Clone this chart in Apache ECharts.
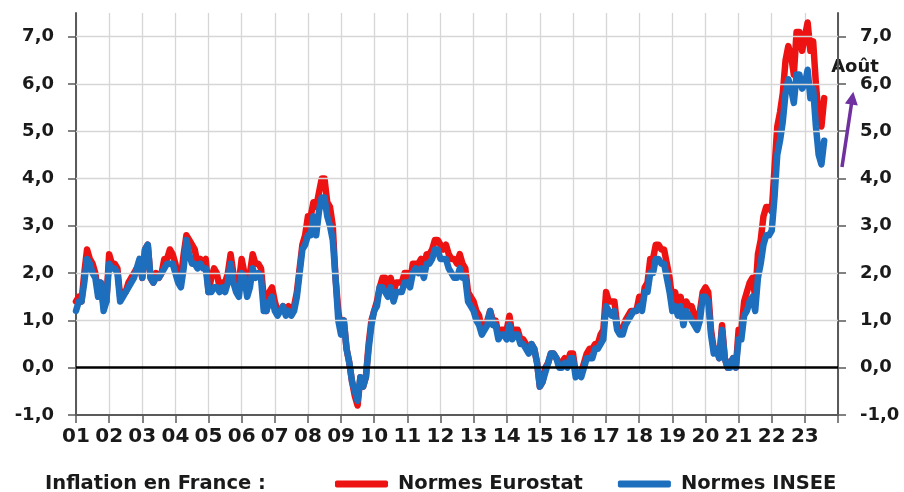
<!DOCTYPE html>
<html>
<head>
<meta charset="utf-8">
<script src="https://cdn.jsdelivr.net/npm/echarts@6/dist/echarts.min.js"></script>
<style>
html,body{margin:0;padding:0;background:#fff;}
#chart{width:904px;height:492px;}
</style>
</head>
<body>
<div id="chart"></div>
<script>
// Monthly year-on-year inflation, Jan 2001 .. Aug 2023
const yearLabels = ['01','02','03','04','05','06','07','08','09','10','11','12','13','14','15','16','17','18','19','20','21','22','23'];
const yTicks = [-1,0,1,2,3,4,5,6,7];
const gridValues = [1,2,3,4,5,6,7];
const seriesNames = ['Normes Eurostat','Normes INSEE'];

const eurostat = [
  1.4,1.5,1.4,2.0,2.5,2.3,2.2,2.0,1.6,1.8,1.3,1.4,
  2.4,2.2,2.2,2.1,1.5,1.6,1.6,1.8,1.9,2.0,2.1,2.2,
  1.9,2.5,2.6,1.9,1.8,2.0,1.9,2.0,2.3,2.3,2.5,2.4,
  2.2,1.9,1.9,2.4,2.8,2.7,2.6,2.5,2.2,2.3,2.2,2.3,
  1.6,1.9,2.1,2.0,1.7,1.8,1.8,2.0,2.4,2.0,1.8,1.8,
  2.3,2.0,1.7,2.0,2.4,2.2,2.2,2.1,1.5,1.2,1.6,1.7,
  1.4,1.2,1.2,1.3,1.2,1.3,1.2,1.3,1.6,2.1,2.6,2.8,
  3.2,3.2,3.5,3.4,3.7,4.0,4.0,3.5,3.4,3.0,1.9,1.2,
  0.8,1.0,0.4,0.1,-0.3,-0.6,-0.8,-0.2,-0.4,-0.2,0.5,1.0,
  1.2,1.4,1.7,1.9,1.9,1.7,1.9,1.6,1.8,1.8,1.8,2.0,
  2.0,1.8,2.2,2.2,2.2,2.3,2.1,2.4,2.4,2.5,2.7,2.7,
  2.6,2.5,2.6,2.4,2.3,2.3,2.2,2.4,2.2,2.1,1.6,1.5,
  1.4,1.2,1.1,0.8,0.9,1.0,1.2,1.0,1.0,0.7,0.8,0.8,
  0.8,1.1,0.7,0.8,0.8,0.6,0.6,0.5,0.4,0.5,0.4,0.1,
  -0.4,-0.3,0.0,0.1,0.3,0.3,0.2,0.1,0.1,0.2,0.1,0.3,
  0.3,-0.1,-0.1,-0.1,0.1,0.3,0.4,0.4,0.5,0.5,0.7,0.8,
  1.6,1.4,1.4,1.4,0.9,0.8,0.8,1.0,1.1,1.2,1.2,1.2,
  1.5,1.3,1.7,1.8,2.3,2.3,2.6,2.6,2.5,2.5,2.2,1.9,
  1.4,1.6,1.3,1.5,1.1,1.4,1.3,1.3,1.1,0.9,1.2,1.6,
  1.7,1.6,0.8,0.4,0.4,0.2,0.9,0.2,0.0,0.1,0.2,0.0,
  0.8,0.8,1.4,1.6,1.8,1.9,1.5,2.4,2.7,3.2,3.4,3.4,
  3.3,4.2,5.1,5.4,5.8,6.5,6.8,6.6,6.2,7.1,7.1,6.7,
  7.0,7.3,6.7,6.9,6.0,5.3,5.1,5.7
];

const insee = [
  1.2,1.4,1.4,1.8,2.3,2.2,2.0,1.9,1.5,1.8,1.2,1.4,
  2.2,2.1,2.1,2.0,1.4,1.5,1.6,1.7,1.8,1.9,2.1,2.3,
  1.9,2.5,2.6,1.9,1.8,1.9,1.9,2.0,2.1,2.2,2.2,2.2,
  2.0,1.8,1.7,2.1,2.7,2.4,2.2,2.2,2.1,2.2,2.1,2.1,
  1.6,1.6,1.7,1.7,1.6,1.7,1.6,1.8,2.2,1.8,1.6,1.5,
  2.0,1.9,1.5,1.7,2.1,1.9,2.0,1.9,1.2,1.2,1.4,1.5,
  1.2,1.1,1.2,1.3,1.1,1.2,1.1,1.2,1.5,2.0,2.5,2.6,
  2.8,2.8,3.2,2.8,3.3,3.6,3.6,3.2,3.0,2.7,1.9,1.0,
  0.7,1.0,0.4,0.1,-0.3,-0.5,-0.7,-0.2,-0.4,-0.2,0.4,0.9,
  1.2,1.3,1.7,1.7,1.6,1.5,1.7,1.4,1.6,1.6,1.6,1.8,
  1.8,1.7,2.0,2.1,2.0,2.1,1.9,2.2,2.2,2.3,2.5,2.5,
  2.3,2.3,2.3,2.1,2.0,1.9,1.9,2.1,1.9,1.9,1.4,1.3,
  1.2,1.0,0.9,0.7,0.8,0.9,1.2,0.9,0.9,0.6,0.7,0.7,
  0.6,0.9,0.6,0.7,0.7,0.5,0.5,0.4,0.3,0.5,0.4,0.1,
  -0.4,-0.3,-0.1,0.1,0.3,0.3,0.2,0.0,0.0,0.1,0.0,0.2,
  0.2,-0.2,-0.1,-0.2,0.0,0.2,0.2,0.2,0.4,0.4,0.5,0.6,
  1.3,1.2,1.1,1.2,0.8,0.7,0.7,0.9,1.0,1.1,1.2,1.2,
  1.3,1.2,1.6,1.6,2.0,2.0,2.3,2.3,2.2,2.2,1.9,1.6,
  1.2,1.3,1.1,1.3,0.9,1.2,1.1,1.0,0.9,0.8,1.0,1.5,
  1.5,1.4,0.7,0.3,0.4,0.2,0.8,0.2,0.0,0.0,0.2,0.0,
  0.6,0.6,1.1,1.2,1.4,1.5,1.2,1.9,2.2,2.6,2.8,2.8,
  2.9,3.6,4.5,4.8,5.2,5.8,6.1,5.9,5.6,6.2,6.2,5.9,
  6.0,6.3,5.7,5.9,5.1,4.5,4.3,4.8
];

const FONT = 'DejaVu Sans';
const TXT = '#1a1a1a';
const AXIS = '#5a5a5a';
const GRID = '#d6d6d6';

const toPairs = arr => arr.map((v, i) => [i, v]);
const fmtY = v => v.toFixed(1).replace('.', ',');

const yAxisBase = (pos) => ({
  type: 'value',
  position: pos,
  min: -1,
  max: 7.5,
  interval: 1,
  axisLine: { show: true, lineStyle: { color: AXIS, width: 2 } },
  axisTick: { show: true, length: 8, customValues: yTicks, lineStyle: { color: AXIS, width: 1.5 } },
  axisLabel: {
    customValues: yTicks,
    margin: 22,
    formatter: fmtY,
    color: TXT, fontFamily: FONT, fontWeight: 'bold', fontSize: 18
  },
  splitLine: { show: false }
});

const chart = echarts.init(document.getElementById('chart'));
chart.setOption({
  animation: false,
  backgroundColor: '#fff',
  grid: { left: 76, right: 66, top: 13, bottom: 77, containLabel: false },
  xAxis: {
    type: 'value',
    min: 0,
    max: yearLabels.length * 12,
    interval: 12,
    axisLine: { show: true, onZero: false, lineStyle: { color: AXIS, width: 2 } },
    axisTick: { show: true, length: 8, lineStyle: { color: AXIS, width: 1.5 } },
    axisLabel: {
      margin: 12,
      formatter: v => yearLabels[Math.round(v / 12)] || '',
      color: TXT, fontFamily: FONT, fontWeight: 'bold', fontSize: 20
    },
    splitLine: { show: true, lineStyle: { color: GRID, width: 1.3 } }
  },
  yAxis: [yAxisBase('left'), yAxisBase('right')],
  legend: {
    data: seriesNames,
    left: 330,
    top: 469,
    icon: 'roundRect',
    itemWidth: 53,
    itemHeight: 7,
    itemGap: 35,
    textStyle: { color: TXT, fontFamily: FONT, fontWeight: 'bold', fontSize: 19.5, padding: [0, 0, 0, 5] }
  },
  series: [
    {
      name: 'grid',
      type: 'line',
      data: [],
      silent: true,
      z: 1,
      markLine: {
        silent: true,
        symbol: 'none',
        label: { show: false },
        animation: false,
        data: gridValues.map(v => ({ yAxis: v, lineStyle: { color: GRID, width: 1.3, type: 'solid' } }))
          .concat([{ yAxis: 0, lineStyle: { color: '#000', width: 2.5, type: 'solid' } }])
      }
    },
    {
      name: seriesNames[0],
      type: 'line',
      data: toPairs(eurostat),
      showSymbol: false,
      z: 3,
      color: '#ee1313',
      lineStyle: { width: 6.5, color: '#ee1313', cap: 'round', join: 'round' }
    },
    {
      name: seriesNames[1],
      type: 'line',
      data: toPairs(insee),
      showSymbol: false,
      z: 4,
      color: '#1d6fbe',
      lineStyle: { width: 6.5, color: '#1d6fbe', cap: 'round', join: 'round' }
    }
  ]
});

// Annotations: caption, "Août" label and purple arrow
const tail = [842, 167], tip = [853.3, 91.7];
const dx = tip[0] - tail[0], dy = tip[1] - tail[1];
const len = Math.sqrt(dx * dx + dy * dy);
const ux = dx / len, uy = dy / len;
const headL = 13, headW = 6.5;
const bx = tip[0] - headL * ux, by = tip[1] - headL * uy;
const nx = -uy, ny = ux;

chart.setOption({
  graphic: [
    {
      type: 'text', x: 45, y: 484,
      style: { text: 'Inflation en France :', font: 'bold 19.5px "DejaVu Sans"', fill: TXT, verticalAlign: 'middle', align: 'left' }
    },
    {
      type: 'text', x: 855, y: 67,
      style: { text: 'Août', font: 'bold 18px "DejaVu Sans"', fill: TXT, verticalAlign: 'middle', align: 'center' }
    },
    {
      type: 'line',
      shape: { x1: tail[0], y1: tail[1], x2: bx + ux * 2, y2: by + uy * 2 },
      style: { stroke: '#7030a0', lineWidth: 3.5 }
    },
    {
      type: 'polygon',
      shape: { points: [tip, [bx + nx * headW, by + ny * headW], [bx - nx * headW, by - ny * headW]] },
      style: { fill: '#7030a0' }
    }
  ]
});
</script>
</body>
</html>
